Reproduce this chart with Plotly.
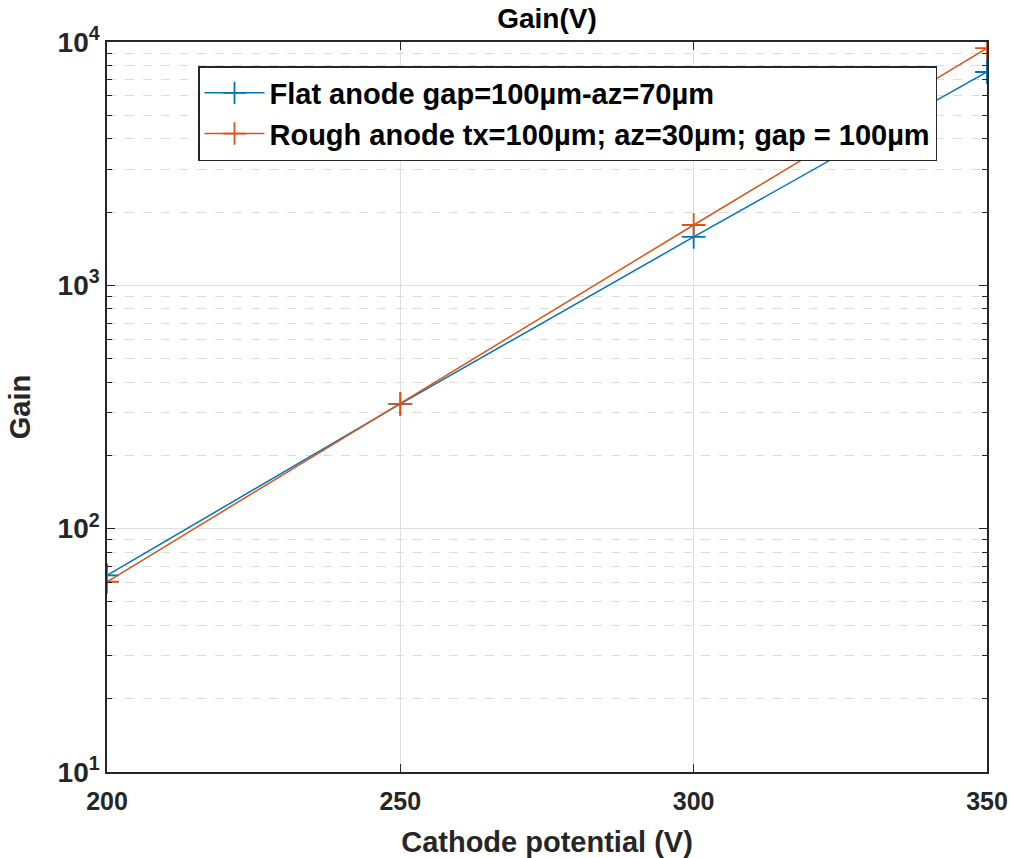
import plotly.graph_objects as go

voltage = [200, 250, 300, 350]
gain_flat = [64.3, 326, 1581, 7530]
gain_rough = [60.5, 326, 1770, 9440]
name_flat = "Flat anode gap=100µm-az=70µm"
name_rough = "Rough anode tx=100µm; az=30µm; gap = 100µm"
ytick_vals = [10, 100, 1000, 10000]
ytick_text = ["10<sup>1</sup>", "10<sup>2</sup>", "10<sup>3</sup>", "10<sup>4</sup>"]
xtick_vals = [200, 250, 300, 350]

FONT = "Liberation Sans, Arial, Helvetica, sans-serif"

fig = go.Figure()
fig.add_trace(go.Scatter(
    x=voltage, y=gain_flat, name=f"<b>{name_flat}</b>", mode="lines+markers",
    line=dict(color="#0072BD", width=1.5),
    marker=dict(symbol="cross-thin", size=17, line=dict(color="#0072BD", width=1.8)),
))
fig.add_trace(go.Scatter(
    x=voltage, y=gain_rough, name=f"<b>{name_rough}</b>", mode="lines+markers",
    line=dict(color="#D95319", width=1.5),
    marker=dict(symbol="cross-thin", size=17, line=dict(color="#D95319", width=1.8)),
))

fig.update_layout(
    width=1010, height=858,
    margin=dict(l=107, r=23, t=42, b=86),
    paper_bgcolor="white", plot_bgcolor="white",
    font=dict(family=FONT, size=20, color="#262626"),
    title=dict(text="<b>Gain(V)</b>", x=0.5, xref="paper", xanchor="center",
               y=1 - 18 / 858, yanchor="middle",
               font=dict(size=28, color="#000000")),
    showlegend=True,
    legend=dict(
        x=(198 - 107) / 880, y=(772 - 66) / 730, xanchor="left", yanchor="top",
        bgcolor="white", bordercolor="#262626", borderwidth=1.5,
        font=dict(size=29, color="#000000", family=FONT),
        tracegroupgap=0, itemwidth=60,
    ),
)

fig.update_xaxes(
    range=[200, 350], tickvals=xtick_vals,
    ticktext=[f"<b>{v}</b>" for v in xtick_vals],
    showgrid=True, gridcolor="#DFDFDF", gridwidth=1,
    showline=True, linecolor="#262626", linewidth=1.5, mirror="ticks",
    ticks="inside", ticklen=8, tickcolor="#262626",
    zeroline=False, automargin=False, ticklabelstandoff=6,
    title=dict(text="<b>Cathode potential (V)</b>", font=dict(size=29, color="#262626"), standoff=18),
    tickfont=dict(size=25, color="#262626"),
)
fig.update_yaxes(
    type="log", range=[1, 4], tickvals=ytick_vals,
    ticktext=[f"<b>{t}</b>" for t in ytick_text],
    showgrid=True, gridcolor="#DFDFDF", gridwidth=1,
    showline=True, linecolor="#262626", linewidth=1.5, mirror="ticks",
    ticks="inside", ticklen=8, tickcolor="#262626",
    zeroline=False, automargin=False,
    minor=dict(dtick="D1", showgrid=True, gridcolor="#DDDDDD", griddash="dash",
               ticks="inside", ticklen=5, tickcolor="#262626"),
    title=dict(text="<b>Gain</b>", font=dict(size=29, color="#262626"), standoff=18),
    tickfont=dict(size=28, color="#262626"),
)

fig.write_html("out.html")
